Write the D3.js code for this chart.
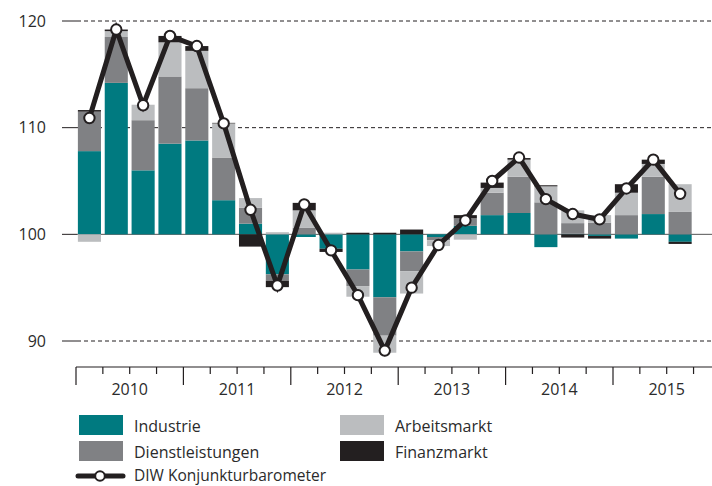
<!DOCTYPE html>
<meta charset="utf-8">
<style>
  body { margin: 0; background: #fff; }
  text { font-family: "Open Sans", "Noto Sans", sans-serif; fill: #2b2b2b; }
</style>

<!-- Load d3.js -->
<script src="https://d3js.org/d3.v7.min.js"></script>

<div id="chart"></div>
<script>

// years on the axis, each one has 4 quarters
var years = ["2010", "2011", "2012", "2013", "2014", "2015"];
var yTicks = [90, 100, 110, 120];

// contributions in index points (100 = base), 2010 Q1 .. 2015 Q3
var industrie       = [7.8, 14.2, 6.0, 8.5, 8.8, 3.2, 1.0, -3.75, -0.25, -1.35, -3.3, -5.9, -1.6, -0.25, 0.8, 1.8, 2.0, -1.2, 0.05, -0.15, -0.4, 1.9, -0.7];
var dienst          = [3.7, 4.3, 4.7, 6.3, 4.9, 4.0, 1.5, -0.6, 0.6, 0, -1.55, -3.6, -1.85, -0.3, 0.7, 2.1, 3.4, 3.0, 1.0, 1.1, 1.8, 3.5, 2.1];
var arbeitsmarkt    = [-0.7, 0.55, 1.45, 3.2, 3.5, 3.2, 0.9, 0.2, 1.65, 0.15, -1.0, -1.6, -2.1, -0.55, -0.5, 0.45, 1.6, 1.5, 1.2, 0.7, 2.1, 1.2, 2.6];
var finanzmarkt     = [0.15, 0.15, 0, 0.6, 0.45, 0.05, -1.15, -0.6, 0.7, -0.3, 0.15, 0.15, 0.45, 0, 0.3, 0.5, 0.15, 0.1, -0.3, -0.25, 0.8, 0.4, -0.2];
var barometer       = [110.9, 119.2, 112.1, 118.6, 117.65, 110.4, 102.3, 95.2, 102.8, 98.5, 94.3, 89.1, 95.0, 99.0, 101.3, 105.0, 107.2, 103.3, 101.9, 101.4, 104.3, 107.0, 103.8];

var keys = ["Industrie", "Dienstleistungen", "Arbeitsmarkt", "Finanzmarkt"];
var colors = ["#007a80", "#808184", "#bbbdbf", "#231f20"];

// all quarters of the axis (the last one stays empty)
var quarters = [];
years.forEach(function(y) { for (var q = 1; q <= 4; q++) quarters.push(y + " Q" + q); });

var data = barometer.map(function(v, i) {
  return { q: quarters[i], Industrie: industrie[i], Dienstleistungen: dienst[i],
           Arbeitsmarkt: arbeitsmarkt[i], Finanzmarkt: finanzmarkt[i], total: v };
});

var width = 712, height = 486;

var svg = d3.select("#chart")
  .append("svg")
    .attr("width", width)
    .attr("height", height);

var step = 26.85;
var x = d3.scaleBand()
  .domain(quarters)
  .range([76, 76 + step * quarters.length])
  .paddingInner(0.14)
  .paddingOuter(0.07);

var y = d3.scaleLinear()
  .domain([90, 120])
  .range([341, 21]);

// grid lines + left ticks
yTicks.forEach(function(t) {
  svg.append("line")
    .attr("x1", 62).attr("x2", 77)
    .attr("y1", y(t)).attr("y2", y(t))
    .style("stroke", "#231f20").style("stroke-width", 1);
  svg.append("line")
    .attr("x1", 77).attr("x2", width)
    .attr("y1", y(t)).attr("y2", y(t))
    .style("stroke", t == 100 ? "#555" : "#231f20")
    .style("stroke-width", 1)
    .style("stroke-dasharray", t == 100 ? null : "4,3");
  svg.append("text")
    .attr("x", 46)
    .attr("y", y(t))
    .attr("dy", "0.36em")
    .attr("text-anchor", "end")
    .style("font-size", "16px")
    .text(t);
});

// stacked bars, positives up and negatives down from 100
var stacked = d3.stack()
  .keys(keys)
  .offset(d3.stackOffsetDiverging)(data);

svg.append("g")
  .selectAll("g")
  .data(stacked)
  .join("g")
    .style("fill", function(d, i) { return colors[i]; })
  .selectAll("rect")
  .data(function(d) { return d; })
  .join("rect")
    .attr("x", function(d) { return x(d.data.q); })
    .attr("width", x.bandwidth())
    .attr("y", function(d) { return y(100 + Math.max(d[0], d[1])); })
    .attr("height", function(d) { return Math.abs(y(100 + d[0]) - y(100 + d[1])); });

// barometer line
var line = d3.line()
  .x(function(d) { return x(d.q) + x.bandwidth() / 2; })
  .y(function(d) { return y(d.total); });

svg.append("path")
  .datum(data)
  .attr("d", line)
  .style("fill", "none")
  .style("stroke", "#231f20")
  .style("stroke-width", 5)
  .style("stroke-linejoin", "miter");

svg.append("g")
  .selectAll("circle")
  .data(data)
  .join("circle")
    .attr("cx", function(d) { return x(d.q) + x.bandwidth() / 2; })
    .attr("cy", function(d) { return y(d.total); })
    .attr("r", 5.2)
    .style("fill", "#fff")
    .style("stroke", "#231f20")
    .style("stroke-width", 2);

// x axis with quarter ticks
var axisY = 367;
svg.append("line")
  .attr("x1", 76).attr("x2", width)
  .attr("y1", axisY).attr("y2", axisY)
  .style("stroke", "#231f20").style("stroke-width", 1.2);

quarters.forEach(function(q, i) {
  var major = i % 4 == 0;
  svg.append("line")
    .attr("x1", x(q) - x.step() * 0.07).attr("x2", x(q) - x.step() * 0.07)
    .attr("y1", axisY).attr("y2", axisY + (major ? 18 : 7))
    .style("stroke", "#231f20").style("stroke-width", 1.2);
});

years.forEach(function(yr) {
  svg.append("text")
    .attr("x", x(yr + " Q3") - x.step() * 0.07)
    .attr("y", 395)
    .attr("text-anchor", "middle")
    .style("font-size", "16px")
    .text(yr);
});

// legend
var legend = [
  { name: "Industrie", c: colors[0], x: 79, y: 415 },
  { name: "Dienstleistungen", c: colors[1], x: 79, y: 441 },
  { name: "Arbeitsmarkt", c: colors[2], x: 340, y: 415 },
  { name: "Finanzmarkt", c: colors[3], x: 340, y: 441 }
];

legend.forEach(function(l) {
  svg.append("rect")
    .attr("x", l.x).attr("y", l.y)
    .attr("width", 44).attr("height", 20)
    .style("fill", l.c);
  svg.append("text")
    .attr("x", l.x + 55)
    .attr("y", l.y + 17)
    .style("font-size", "16px")
    .text(l.name);
});

svg.append("line")
  .attr("x1", 78).attr("x2", 123)
  .attr("y1", 476).attr("y2", 476)
  .style("stroke", "#231f20").style("stroke-width", 5)
  .style("stroke-linecap", "round");
svg.append("circle")
  .attr("cx", 100).attr("cy", 476).attr("r", 4.8)
  .style("fill", "#fff").style("stroke", "#231f20").style("stroke-width", 2);
svg.append("text")
  .attr("x", 134)
  .attr("y", 481)
  .style("font-size", "15.5px")
  .text("DIW Konjunkturbarometer");

</script>
